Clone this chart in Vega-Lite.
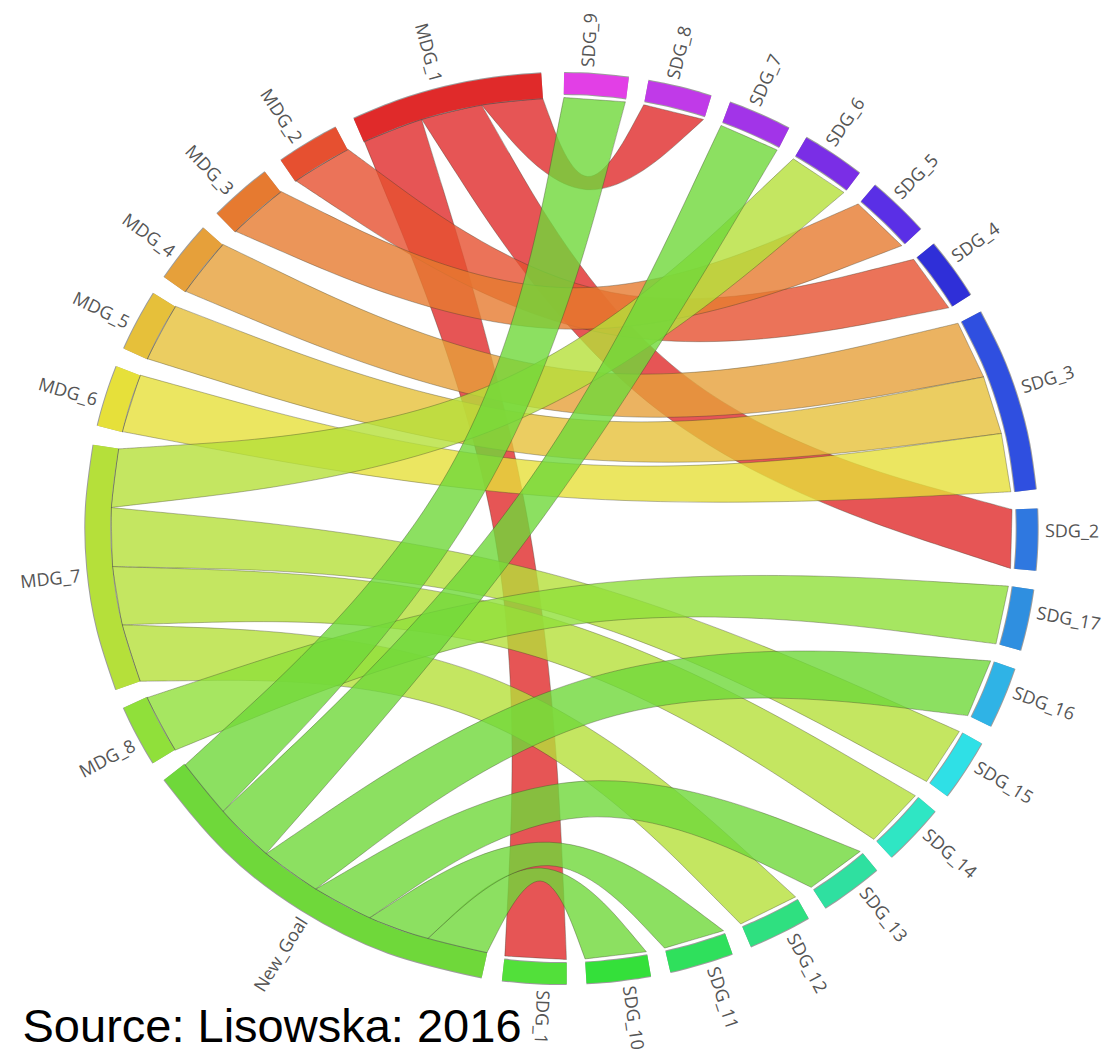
{
  "$schema": "https://vega.github.io/schema/vega-lite/v6.json",
  "width": 1107,
  "height": 1055,
  "padding": 0,
  "autosize": {"type": "none"},
  "background": "white",
  "config": {"view": {"stroke": null}},
  "layer": [
    {
      "data": {
        "name": "links",
        "values": [
          {"source": "MDG_1", "target": "SDG_1", "value": 1},
          {"source": "MDG_1", "target": "SDG_2", "value": 1},
          {"source": "MDG_1", "target": "SDG_8", "value": 1},
          {"source": "MDG_2", "target": "SDG_4", "value": 1},
          {"source": "MDG_3", "target": "SDG_5", "value": 1},
          {"source": "MDG_4", "target": "SDG_3", "value": 1},
          {"source": "MDG_5", "target": "SDG_3", "value": 1},
          {"source": "MDG_6", "target": "SDG_3", "value": 1},
          {"source": "MDG_7", "target": "SDG_6", "value": 1},
          {"source": "MDG_7", "target": "SDG_12", "value": 1},
          {"source": "MDG_7", "target": "SDG_14", "value": 1},
          {"source": "MDG_7", "target": "SDG_15", "value": 1},
          {"source": "MDG_8", "target": "SDG_17", "value": 1},
          {"source": "New_Goal", "target": "SDG_7", "value": 1},
          {"source": "New_Goal", "target": "SDG_9", "value": 1},
          {"source": "New_Goal", "target": "SDG_10", "value": 1},
          {"source": "New_Goal", "target": "SDG_11", "value": 1},
          {"source": "New_Goal", "target": "SDG_13", "value": 1},
          {"source": "New_Goal", "target": "SDG_16", "value": 1}
        ]
      },
      "transform": [
        {"calculate": "indexof(['SDG_9','SDG_8','SDG_7','SDG_6','SDG_5','SDG_4','SDG_3','SDG_2','SDG_17','SDG_16','SDG_15','SDG_14','SDG_13','SDG_12','SDG_11','SDG_10','SDG_1','New_Goal','MDG_8','MDG_7','MDG_6','MDG_5','MDG_4','MDG_3','MDG_2','MDG_1'], datum.source)", "as": "si"},
        {"calculate": "indexof(['SDG_9','SDG_8','SDG_7','SDG_6','SDG_5','SDG_4','SDG_3','SDG_2','SDG_17','SDG_16','SDG_15','SDG_14','SDG_13','SDG_12','SDG_11','SDG_10','SDG_1','New_Goal','MDG_8','MDG_7','MDG_6','MDG_5','MDG_4','MDG_3','MDG_2','MDG_1'], datum.target)", "as": "ti"},
        {"calculate": "datum.source + '|' + datum.target", "as": "link"},
        {"fold": ["source", "target"], "as": ["end", "node"]},
        {"calculate": "datum.end == 'source' ? datum.si : datum.ti", "as": "ni"},
        {"calculate": "datum.end == 'source' ? datum.ti : datum.si", "as": "oi"},
        {"window": [{"op": "dense_rank", "as": "dr"}], "sort": [{"field": "ni", "order": "ascending"}]},
        {"window": [{"op": "sum", "field": "value", "as": "cum"}], "sort": [{"field": "ni", "order": "ascending"}, {"field": "oi", "order": "descending"}], "frame": [null, 0]},
        {"calculate": "0.005236 + (datum.cum - datum.value) * 0.137008 + (datum.dr - 1) * 0.04119", "as": "a0"},
        {"calculate": "datum.a0 + datum.value * 0.137008", "as": "a1"}
      ],
      "layer": [
        {
          "transform": [
            {"calculate": "datum.end == 'source' ? datum.a0 : -999", "as": "sa0"},
            {"calculate": "datum.end == 'source' ? datum.a1 : -999", "as": "sa1"},
            {"calculate": "datum.end == 'target' ? datum.a0 : -999", "as": "ta0"},
            {"calculate": "datum.end == 'target' ? datum.a1 : -999", "as": "ta1"},
            {"joinaggregate": [
              {"op": "max", "field": "sa0", "as": "S0"},
              {"op": "max", "field": "sa1", "as": "S1"},
              {"op": "max", "field": "ta0", "as": "T0"},
              {"op": "max", "field": "ta1", "as": "T1"}
            ], "groupby": ["link"]},
            {"filter": "datum.end == 'source'"},
            {"calculate": "(sin(datum.S1) + sin(datum.T0)) / 2", "as": "m1x"},
            {"calculate": "(cos(datum.S1) + cos(datum.T0)) / 2", "as": "m1y"},
            {"calculate": "(sin(datum.T1) + sin(datum.S0)) / 2", "as": "m2x"},
            {"calculate": "(cos(datum.T1) + cos(datum.S0)) / 2", "as": "m2y"},
            {"calculate": "0.1 + 0.64 * sqrt(datum.m1x * datum.m1x + datum.m1y * datum.m1y)", "as": "l1"},
            {"calculate": "0.1 + 0.64 * sqrt(datum.m2x * datum.m2x + datum.m2y * datum.m2y)", "as": "l2"},
            {"calculate": "[0,1,2,3,4,5,6,7,8,9,10,11,12,13,14,15,16]", "as": "p"},
            {"calculate": "[0,0,0,1,1,1,2,3,3,3,4,4,4,5,0,0,0]", "as": "kind"},
            {"flatten": ["p", "kind"]},
            {"calculate": "datum.kind == 0 ? datum.S0 : datum.kind == 1 ? datum.S1 : datum.kind == 3 ? datum.T0 : datum.T1", "as": "ang"},
            {"calculate": "datum.kind == 2 ? datum.l1 * datum.m1x : datum.kind == 5 ? datum.l2 * datum.m2x : sin(datum.ang)", "as": "x"},
            {"calculate": "datum.kind == 2 ? datum.l1 * datum.m1y : datum.kind == 5 ? datum.l2 * datum.m2y : cos(datum.ang)", "as": "y"}
          ],
          "mark": {"type": "line", "interpolate": "basis", "fillOpacity": 0.8, "stroke": "#3a3a2a", "strokeWidth": 0.8, "strokeOpacity": 0.45},
          "encoding": {
            "x": {"field": "x", "type": "quantitative", "scale": {"domain": [-1.24501, 1.20953], "nice": false, "zero": false}, "axis": null},
            "y": {"field": "y", "type": "quantitative", "scale": {"domain": [-1.22158, 1.22622], "nice": false, "zero": false}, "axis": null},
            "order": {"field": "p", "type": "quantitative"},
            "detail": {"field": "link", "type": "nominal"},
            "fill": {"field": "source", "type": "nominal", "legend": null, "scale": {
              "domain": ["SDG_9","SDG_8","SDG_7","SDG_6","SDG_5","SDG_4","SDG_3","SDG_2","SDG_17","SDG_16","SDG_15","SDG_14","SDG_13","SDG_12","SDG_11","SDG_10","SDG_1","New_Goal","MDG_8","MDG_7","MDG_6","MDG_5","MDG_4","MDG_3","MDG_2","MDG_1"],
              "range": ["#e23fe6","#c03ae8","#a234e8","#7a2ee6","#5a2fe6","#2f2fd8","#2f4fe0","#2f78e0","#2f8fe0","#2fb3e6","#2fe0e6","#2fe6c4","#2fe0a0","#2fe080","#2fe05c","#34e03a","#52e03a","#6fd83a","#90e03a","#b5e03a","#e6e03a","#e6c03a","#e6a03a","#e67a30","#e65030","#e02a2a"]}}
          }
        },
        {
          "transform": [
            {"aggregate": [{"op": "min", "field": "a0", "as": "n0"}, {"op": "max", "field": "a1", "as": "n1"}], "groupby": ["node", "ni"]},
            {"calculate": "[0,1,2,3,4]", "as": "k"},
            {"flatten": ["k"]},
            {"calculate": "datum.n0 + (datum.n1 - datum.n0) * datum.k / 4", "as": "ang"},
            {"calculate": "datum.ni <= 16 ? 1.0325 : 1.028", "as": "rr"},
            {"calculate": "datum.rr * sin(datum.ang)", "as": "x"},
            {"calculate": "datum.rr * cos(datum.ang)", "as": "y"}
          ],
          "mark": {"type": "line", "interpolate": "natural", "strokeCap": "butt", "color": "#4a4a4a", "opacity": 0.55},
          "encoding": {
            "x": {"field": "x", "type": "quantitative", "scale": {"domain": [-1.24501, 1.20953], "nice": false, "zero": false}, "axis": null},
            "y": {"field": "y", "type": "quantitative", "scale": {"domain": [-1.22158, 1.22622], "nice": false, "zero": false}, "axis": null},
            "order": {"field": "k", "type": "quantitative"},
            "detail": {"field": "node", "type": "nominal"},
            "size": {"condition": {"test": "datum.ni <= 16", "value": 23}, "value": 27}
          }
        },
        {
          "transform": [
            {"aggregate": [{"op": "min", "field": "a0", "as": "n0"}, {"op": "max", "field": "a1", "as": "n1"}], "groupby": ["node", "ni"]},
            {"calculate": "[0,1,2,3,4]", "as": "k"},
            {"flatten": ["k"]},
            {"calculate": "datum.n0 + (datum.n1 - datum.n0) * datum.k / 4", "as": "ang"},
            {"calculate": "datum.ni <= 16 ? 1.0325 : 1.028", "as": "rr"},
            {"calculate": "datum.rr * sin(datum.ang)", "as": "x"},
            {"calculate": "datum.rr * cos(datum.ang)", "as": "y"}
          ],
          "mark": {"type": "line", "interpolate": "natural", "strokeCap": "butt"},
          "encoding": {
            "x": {"field": "x", "type": "quantitative", "scale": {"domain": [-1.24501, 1.20953], "nice": false, "zero": false}, "axis": null},
            "y": {"field": "y", "type": "quantitative", "scale": {"domain": [-1.22158, 1.22622], "nice": false, "zero": false}, "axis": null},
            "order": {"field": "k", "type": "quantitative"},
            "detail": {"field": "node", "type": "nominal"},
            "size": {"condition": {"test": "datum.ni <= 16", "value": 21}, "value": 25},
            "color": {"field": "node", "type": "nominal", "legend": null, "scale": {
              "domain": ["SDG_9","SDG_8","SDG_7","SDG_6","SDG_5","SDG_4","SDG_3","SDG_2","SDG_17","SDG_16","SDG_15","SDG_14","SDG_13","SDG_12","SDG_11","SDG_10","SDG_1","New_Goal","MDG_8","MDG_7","MDG_6","MDG_5","MDG_4","MDG_3","MDG_2","MDG_1"],
              "range": ["#e23fe6","#c03ae8","#a234e8","#7a2ee6","#5a2fe6","#2f2fd8","#2f4fe0","#2f78e0","#2f8fe0","#2fb3e6","#2fe0e6","#2fe6c4","#2fe0a0","#2fe080","#2fe05c","#34e03a","#52e03a","#6fd83a","#90e03a","#b5e03a","#e6e03a","#e6c03a","#e6a03a","#e67a30","#e65030","#e02a2a"]}}
          }
        },
        {
          "transform": [
            {"aggregate": [{"op": "min", "field": "a0", "as": "n0"}, {"op": "max", "field": "a1", "as": "n1"}], "groupby": ["node", "ni"]},
            {"filter": "datum.ni <= 16"},
            {"calculate": "(datum.n0 + datum.n1) / 2 - 0.0166", "as": "mid"},
            {"calculate": "1.072 * sin(datum.mid)", "as": "lx"},
            {"calculate": "1.072 * cos(datum.mid)", "as": "ly"},
            {"calculate": "(datum.mid * 180 / PI - 90 + 720) % 360", "as": "ta"}
          ],
          "mark": {"type": "text", "align": "left", "baseline": "middle", "font": "Open Sans", "fontSize": 18, "color": "#555555"},
          "encoding": {
            "x": {"field": "lx", "type": "quantitative", "scale": {"domain": [-1.24501, 1.20953], "nice": false, "zero": false}, "axis": null},
            "y": {"field": "ly", "type": "quantitative", "scale": {"domain": [-1.22158, 1.22622], "nice": false, "zero": false}, "axis": null},
            "text": {"field": "node", "type": "nominal"},
            "angle": {"field": "ta", "type": "quantitative", "scale": null}
          }
        },
        {
          "transform": [
            {"aggregate": [{"op": "min", "field": "a0", "as": "n0"}, {"op": "max", "field": "a1", "as": "n1"}], "groupby": ["node", "ni"]},
            {"filter": "datum.ni > 16"},
            {"calculate": "(datum.n0 + datum.n1) / 2 - 0.0166", "as": "mid"},
            {"calculate": "1.072 * sin(datum.mid)", "as": "lx"},
            {"calculate": "1.072 * cos(datum.mid)", "as": "ly"},
            {"calculate": "(datum.mid * 180 / PI - 270 + 720) % 360", "as": "ta"}
          ],
          "mark": {"type": "text", "align": "right", "baseline": "middle", "font": "Open Sans", "fontSize": 18, "color": "#555555"},
          "encoding": {
            "x": {"field": "lx", "type": "quantitative", "scale": {"domain": [-1.24501, 1.20953], "nice": false, "zero": false}, "axis": null},
            "y": {"field": "ly", "type": "quantitative", "scale": {"domain": [-1.22158, 1.22622], "nice": false, "zero": false}, "axis": null},
            "text": {"field": "node", "type": "nominal"},
            "angle": {"field": "ta", "type": "quantitative", "scale": null}
          }
        }
      ]
    },
    {
      "data": {"values": [{"label": "Source: Lisowska: 2016"}]},
      "mark": {"type": "text", "align": "left", "baseline": "alphabetic", "font": "Liberation Sans", "fontSize": 47, "color": "#000000"},
      "encoding": {
        "x": {"datum": -1.1951, "type": "quantitative", "scale": {"domain": [-1.24501, 1.20953], "nice": false, "zero": false}, "axis": null},
        "y": {"datum": -1.1903, "type": "quantitative", "scale": {"domain": [-1.22158, 1.22622], "nice": false, "zero": false}, "axis": null},
        "text": {"field": "label", "type": "nominal"}
      }
    }
  ]
}
